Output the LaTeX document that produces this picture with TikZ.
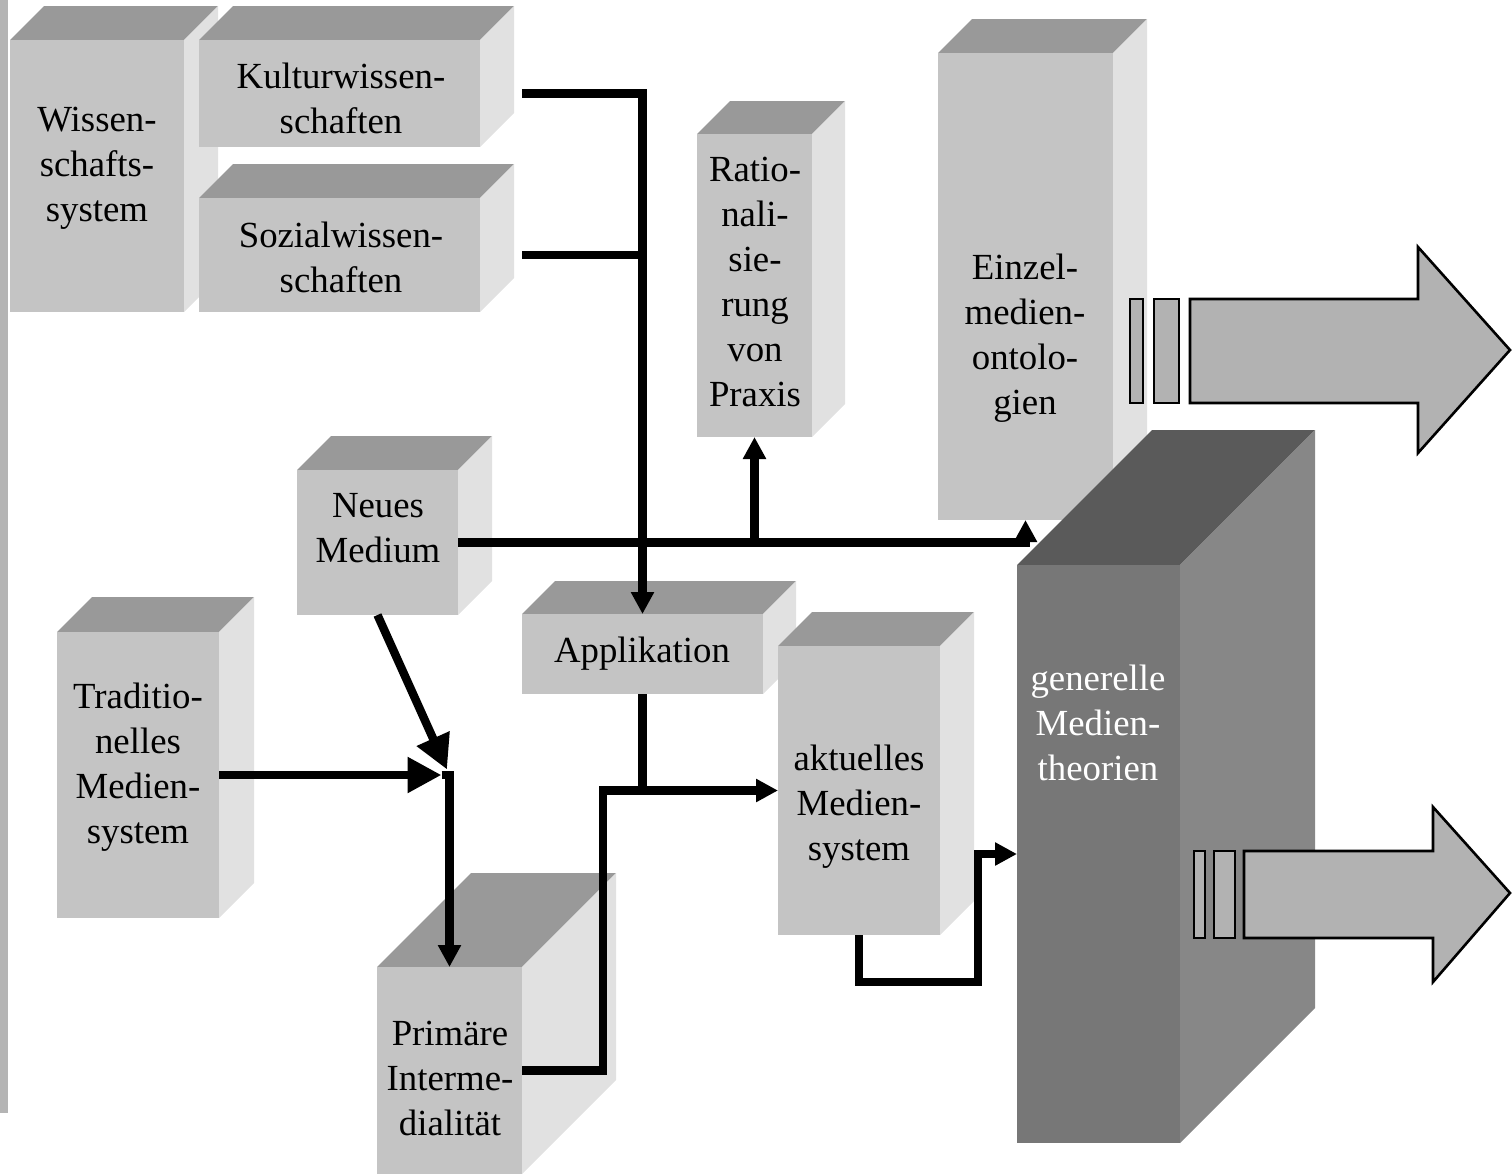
\documentclass[tikz,border=0pt]{standalone}
\usepackage{fontspec}
\setmainfont{Liberation Serif}
\usepackage{xcolor}
\definecolor{faceTop}{HTML}{999999}
\definecolor{faceFront}{HTML}{C4C4C4}
\definecolor{faceSide}{HTML}{E1E1E1}
\definecolor{darkTop}{HTML}{5A5A5A}
\definecolor{darkFront}{HTML}{777777}
\definecolor{darkSide}{HTML}{878787}
\definecolor{arrowFill}{HTML}{B2B2B2}
\definecolor{barGray}{HTML}{B4B4B4}
\usetikzlibrary{arrows.meta}
\tikzset{
    % faces of the light boxes
    light top/.style={fill=faceTop},
    light side/.style={fill=faceSide},
    light front/.style={fill=faceFront, anchor=north west, inner sep=0pt, outer sep=0pt},
    % faces of the dark box
    dark top/.style={fill=darkTop},
    dark side/.style={fill=darkSide},
    dark front/.style={fill=darkFront, anchor=north west, inner sep=0pt, outer sep=0pt},
    % box labels
    box label/.style={
        font=\fontsize{18.4}{22.5}\selectfont,
        align=center,
        inner sep=0pt,
    },
    % connectors
    link/.style={line width=4.2pt, draw=black},
    arrow/.style={link, -{Triangle[length=11pt, width=11pt]}},
    big arrow/.style={link, -{Triangle[length=17pt, width=17pt]}},
    % outlined block arrows
    block/.style={draw=black, line width=1.3pt, fill=arrowFill, line join=miter},
}
% #2 name, #3/#4 top left of front face, #5 width, #6 height, #7 depth
\newcommand\quader[7][light]{%
    \fill[#1 top] (#3,#4) -- ++(#7,-#7) -- ++(#5,0) -- ++(-#7,#7) -- cycle;
    \fill[#1 side] (#3+#5,#4) -- ++(#7,-#7) -- ++(0,#6) -- ++(-#7,#7) -- cycle;
    \node[#1 front, minimum width=#5*0.5pt, minimum height=#6*0.5pt] (#2) at (#3,#4) {};
}

\begin{document}
\begin{tikzpicture}[x=0.5pt, y=-0.5pt]
    \useasboundingbox (0,0) rectangle (1512,1174);
    \fill[barGray] (0,0) rectangle (8,1113);

    % boxes
    \quader{wissen}{10}{40}{174}{272}{34}
    \quader{kultur}{199}{40}{281}{107}{34}
    \quader{sozial}{199}{198}{281}{114}{34}
    \quader{rational}{697}{134}{115}{303}{33}
    \quader{einzel}{938}{53}{175}{467}{34}
    \quader[dark]{general}{1017}{565}{163}{578}{135}
    \quader{neues}{297}{470}{161}{145}{34}
    \quader{tradition}{57}{632}{162}{286}{35}
    \quader{applik}{522}{614}{241}{80}{33}
    \quader{aktuell}{778}{646}{162}{289}{34}
    \quader{primar}{377}{967}{145}{207}{94}

    % labels
    \node[box label] (wissenT) at (97,168) {Wissen-\\schafts-\\system};
    \node[box label] (kulturT) at (341,98) {Kulturwissen-\\schaften};
    \node[box label] (sozialT) at (341,257) {Sozialwissen-\\schaften};
    \node[box label] (rationalT) at (755,282) {Ratio-\\nali-\\sie-\\rung\\von\\Praxis};
    \node[box label] (einzelT) at (1025,338) {Einzel-\\medien-\\ontolo-\\gien};
    \node[box label] (neuesT) at (378,528) {Neues\\Medium};
    \node[box label] (applikT) at (642,654) {Applikation};
    \node[box label] (aktuellT) at (859,807) {aktuelles\\Medien-\\system};
    \node[box label] (traditionT) at (138,767) {Traditio-\\nelles\\Medien-\\system};
    \node[box label] (primarT) at (450,1078) {Primäre\\Interme-\\dialität};
    \node[box label, text=white] (generalT) at (1098,723) {generelle\\Medien-\\theorien};

    % connectors
    \coordinate (junc) at (primar.north |- tradition.east);
    \draw[arrow] ([xshift=21pt]kultur.east) -| (applik.north);
    \draw[link] ([xshift=21pt]sozial.east) -- (sozial.east -| applik.north);
    \draw[arrow] (neues.east) -| (einzel.south);
    \draw[arrow] (rational.south |- neues.east) -- (rational.south);
    \draw[big arrow, shorten >=3pt] (neues.south) -- (junc);
    \draw[big arrow, shorten >=4pt] (tradition.east) -- (junc);
    \draw[arrow] ([xshift=-4pt]junc) -| (primar.north);
    \draw[arrow] (applik.south) |- (aktuell.west);
    \draw[link] (primar.east) -- ++(81,0) |- (applik.south |- aktuell.west);
    \draw[arrow] (aktuell.south) -- ++(0,47) -| ([xshift=-19.5pt]general.west) -- (general.west);

    % block arrows
    \draw[block] (1130,299) rectangle (1143,403);
    \draw[block] (1154,299) rectangle (1179,403);
    \draw[block] (1190,299) -- (1418,299) -- (1418,247) -- (1510,350)
        -- (1418,453) -- (1418,403) -- (1190,403) -- cycle;
    \draw[block] (1194,851) rectangle (1205,938);
    \draw[block] (1214,851) rectangle (1235,938);
    \draw[block] (1244,851) -- (1433,851) -- (1433,807) -- (1510,893)
        -- (1433,982) -- (1433,938) -- (1244,938) -- cycle;
\end{tikzpicture}
\end{document}
